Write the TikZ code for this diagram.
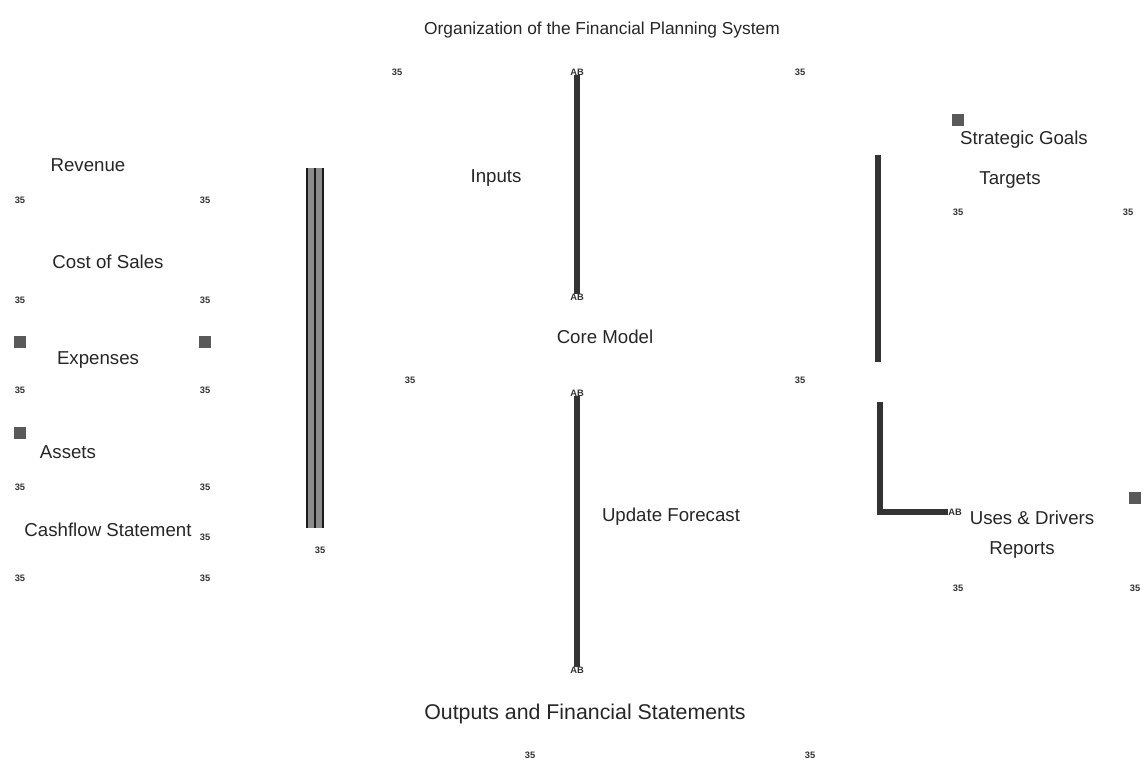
\documentclass[tikz,border=0pt]{standalone}
\usepackage{fontspec}
\setmainfont{Liberation Sans}
\begin{document}
\begin{tikzpicture}[x=0.75pt,y=-0.75pt,
  lbl/.style={font=\fontsize{14}{16}\selectfont, inner sep=1pt, text=black!85},
  big/.style={font=\fontsize{16}{18}\selectfont, inner sep=1pt, text=black!85},
  mk/.style={font=\fontsize{7}{8}\selectfont\bfseries, inner sep=0pt, text=black!80},
  sq/.style={fill=black!65, draw=none, minimum size=9pt, inner sep=0pt},
  wire/.style={line width=4pt, draw=black!80},
  band/.style={line width=12pt, draw=black!45}]
\useasboundingbox (0,0) rectangle (1143,765);
% title and top marks
\node[big, font=\fontsize{13}{15}\selectfont] (title) at (602,30) {Organization of the Financial Planning System};
\node[mk] (m1) at (397,72) {35};
\node[mk] (m2) at (800,72) {35};
\node[mk] (top) at (577,72) {AB};
% central top line
\node[mk] (cb) at (577,297) {AB};
\draw[wire] (top) -- (cb);
\node[lbl] (inp) at (496,178) {Inputs};
\node[lbl] (core) at (605,337) {Core Model};
\node[mk] (m3) at (410,380) {35};
\node[mk] (m4) at (800,380) {35};
% central bottom line
\node[mk] (ct) at (577,393) {AB};
\node[mk] (cbb) at (577,670) {AB};
\draw[wire] (ct) -- (cbb);
\node[lbl] (upd) at (671,517) {Update Forecast};
\node[big] (out) at (585,714) {Outputs and Financial Statements};
\node[mk] (m5) at (530,755) {35};
\node[mk] (m6) at (810,755) {35};
% left column
\node[lbl] (rev) at (88,165) {Revenue};
\node[lbl] (cos) at (108,262) {Cost of Sales};
\node[lbl] (exp) at (98,360) {Expenses};
\node[lbl] (ast) at (68,452) {Assets};
\node[lbl] (cf) at (108,530) {Cashflow Statement};
\foreach \y/\n in {200/a,300/b,390/c,487/d,578/e}{
  \node[mk] (l\n) at (20,\y) {35};
  \node[mk] (r\n) at (205,\y) {35};
}
\node[mk] (rf) at (205,537) {35};
\node[sq] (s1) at (20,342) {};
\node[sq] (s2) at (205,342) {};
\node[sq] (s3) at (20,433) {};
% left band
\coordinate (bt) at (315,168);
\coordinate (bb) at (315,528);
\draw[band] (bt) -- (bb);
\draw[line width=1.2pt, draw=black!90] (bt) ++(-8,0) -- ++(0,360);
\draw[line width=1.2pt, draw=black!90] (bt) ++(8,0) -- ++(0,360);
\draw[line width=1.2pt, draw=black!90] (bt) -- (bb);
\node[mk] (m7) at (320,550) {35};
% right side
\node[sq] (s4) at (958,120) {};
\node[lbl] (goal) at (1024,140) {Strategic Goals};
\node[lbl] (tgt) at (1010,180) {Targets};
\node[mk] (m8) at (958,212) {35};
\node[mk] (m9) at (1128,212) {35};
\coordinate (rt) at (878,155);
\coordinate (rb) at (878,362);
\draw[wire] (rt) -- (rb);
\coordinate (lt) at (880,402);
\coordinate (lc) at (880,512);
\node[mk] (le) at (955,512) {AB};
\draw[wire] (lt) -- (lc) -- (le);
\node[lbl] (uses) at (1032,518) {Uses \& Drivers};
\node[lbl] (rep) at (1022,550) {Reports};
\node[sq] (s5) at (1135,498) {};
\node[mk] (m10) at (958,588) {35};
\node[mk] (m11) at (1135,588) {35};
\end{tikzpicture}
\end{document}
